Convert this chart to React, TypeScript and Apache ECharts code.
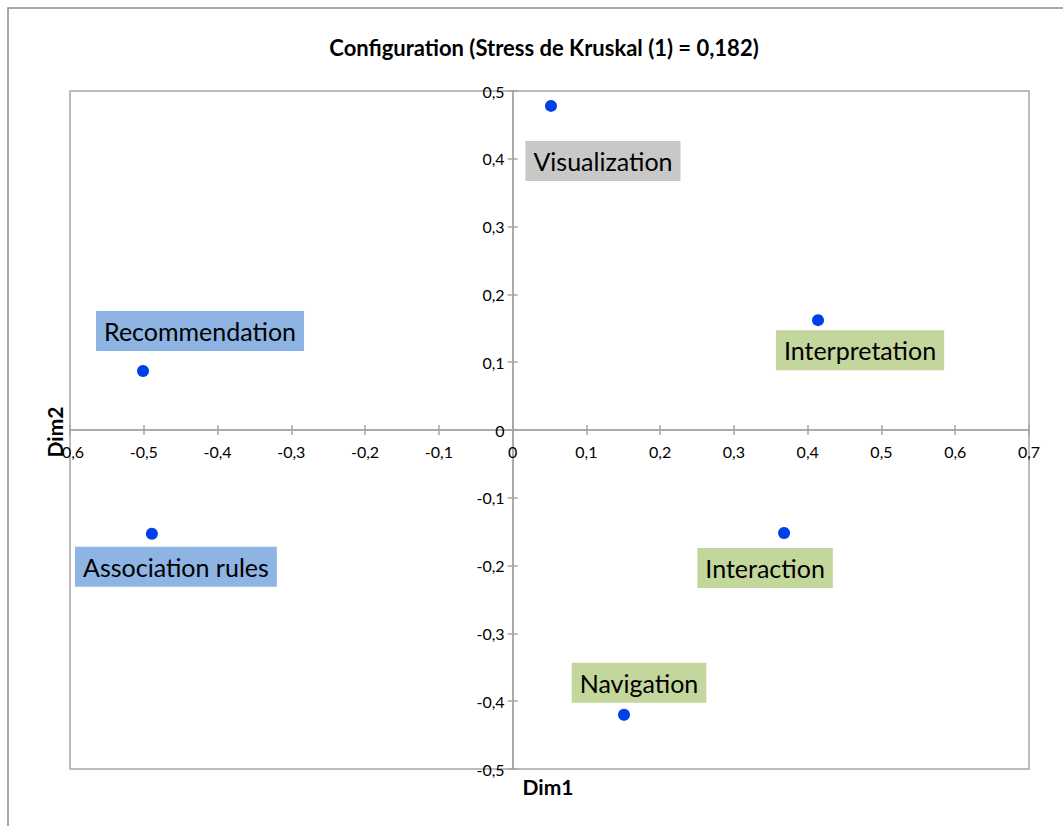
import React, { useEffect, useRef } from "react";
import * as echarts from "echarts";

const titleText = "Configuration (Stress de Kruskal (1) = 0,182)";
const xAxisName = "Dim1";
const yAxisName = "Dim2";
const pointNames = ["Visualization", "Interpretation", "Recommendation", "Association rules", "Interaction", "Navigation"];
const dim1Values = [0.052, 0.414, -0.501, -0.489, 0.368, 0.151];
const dim2Values = [0.478, 0.162, 0.087, -0.153, -0.152, -0.42];
const labelColors = ["#C8C8C8", "#C3D69B", "#8DB4E2", "#8DB4E2", "#C3D69B", "#C3D69B"];
const labelOffsets: [number, number][] = [[52, 55], [42, 30], [57, -40], [24, 33], [-19, 35], [15, -32]];

const xMin = -0.6, xMax = 0.7, yMin = -0.5, yMax = 0.5, step = 0.1;

const fmt = (v: number) => {
  const r = Math.round(v * 10) / 10;
  return r === 0 ? "0" : r.toFixed(1).replace(".", ",");
};

const W = 1063, H = 826;
const gridBox = { left: 70, right: 34, top: 91, bottom: 57 };

export default function App() {
  const ref = useRef<HTMLDivElement>(null);
  useEffect(() => {
    if (!ref.current) return;
    const chart = echarts.init(ref.current, null, { renderer: "svg" });
    const axisColor = "#A6A6A6";
    const gridW = W - gridBox.left - gridBox.right;
    const gridH = H - gridBox.top - gridBox.bottom;
    // shift labelled axes from the grid edge to the zero crossing of the other axis
    const xAxisShift = -(gridH * (0 - yMin)) / (yMax - yMin);
    const yAxisShift = -(gridW * (0 - xMin)) / (xMax - xMin);
    const data = pointNames.map((n, i) => ({
      name: n,
      value: [dim1Values[i], dim2Values[i]],
      label: { backgroundColor: labelColors[i], offset: labelOffsets[i] },
    }));
    const xBase = {
      type: "value" as const,
      min: xMin,
      max: xMax,
      interval: step,
      splitLine: { show: false },
    };
    const yBase = {
      type: "value" as const,
      min: yMin,
      max: yMax,
      interval: step,
      splitLine: { show: false },
    };
    chart.setOption({
      animation: false,
      textStyle: { fontFamily: "Lato" },
      title: {
        text: titleText,
        left: 539,
        top: 31,
        textAlign: "center",
        textStyle: { fontSize: 22, fontWeight: "bold", color: "#000", fontFamily: "Lato" },
      },
      grid: [
        {
          ...gridBox,
          show: true,
          borderColor: axisColor,
          borderWidth: 1.5,
          backgroundColor: "transparent",
        },
        { ...gridBox, show: false },
      ],
      graphic: [
        {
          type: "rect",
          shape: { x: 8, y: 8, width: 1200, height: 1000 },
          style: { fill: "none", stroke: "#8C8C8C", lineWidth: 1.5 },
          silent: true,
          z: -10,
        },
        {
          type: "text",
          x: 548,
          y: 786,
          style: { text: xAxisName, font: "bold 21px Lato", fill: "#000", textAlign: "center", textVerticalAlign: "middle" },
          z: 10,
        },
        {
          type: "text",
          x: 54,
          y: 432,
          rotation: Math.PI / 2,
          style: { text: yAxisName, font: "bold 21px Lato", fill: "#000", textAlign: "center", textVerticalAlign: "middle" },
          z: 10,
        },
      ],
      xAxis: [
        {
          ...xBase,
          gridIndex: 0,
          position: "bottom",
          offset: xAxisShift,
          axisLine: { onZero: false, lineStyle: { color: axisColor, width: 1.5 } },
          axisTick: { show: true, inside: false, length: 5, lineStyle: { color: axisColor, width: 1.5 } },
          axisLabel: { formatter: fmt, fontSize: 16, color: "#000", margin: 13 },
        },
        {
          ...xBase,
          gridIndex: 1,
          axisLine: { onZero: true, lineStyle: { color: axisColor, width: 1.5 } },
          axisTick: { show: true, inside: true, length: 5, lineStyle: { color: axisColor, width: 1.5 } },
          axisLabel: { show: false },
        },
      ],
      yAxis: [
        {
          ...yBase,
          gridIndex: 0,
          position: "left",
          offset: yAxisShift,
          axisLine: { onZero: false, lineStyle: { color: axisColor, width: 1.5 } },
          axisTick: { show: true, inside: false, length: 5, lineStyle: { color: axisColor, width: 1.5 } },
          axisLabel: { formatter: fmt, fontSize: 16, color: "#000", margin: 8 },
        },
        {
          ...yBase,
          gridIndex: 1,
          axisLine: { onZero: true, lineStyle: { color: axisColor, width: 1.5 } },
          axisTick: { show: true, inside: true, length: 5, lineStyle: { color: axisColor, width: 1.5 } },
          axisLabel: { show: false },
        },
      ],
      series: [
        {
          type: "scatter",
          xAxisIndex: 0,
          yAxisIndex: 0,
          symbol: "circle",
          symbolSize: 12,
          itemStyle: { color: "#0040E8", opacity: 1 },
          data,
          label: {
            show: true,
            position: "inside",
            formatter: "{b}",
            fontSize: 25,
            fontFamily: "Lato",
            color: "#000",
            padding: [5, 8, 4, 8],
            lineHeight: 31,
          },
          z: 5,
        },
      ],
    });
    return () => chart.dispose();
  }, []);
  return <div ref={ref} style={{ position: "fixed", left: 0, top: 0, width: W, height: H, background: "#fff" }} />;
}
